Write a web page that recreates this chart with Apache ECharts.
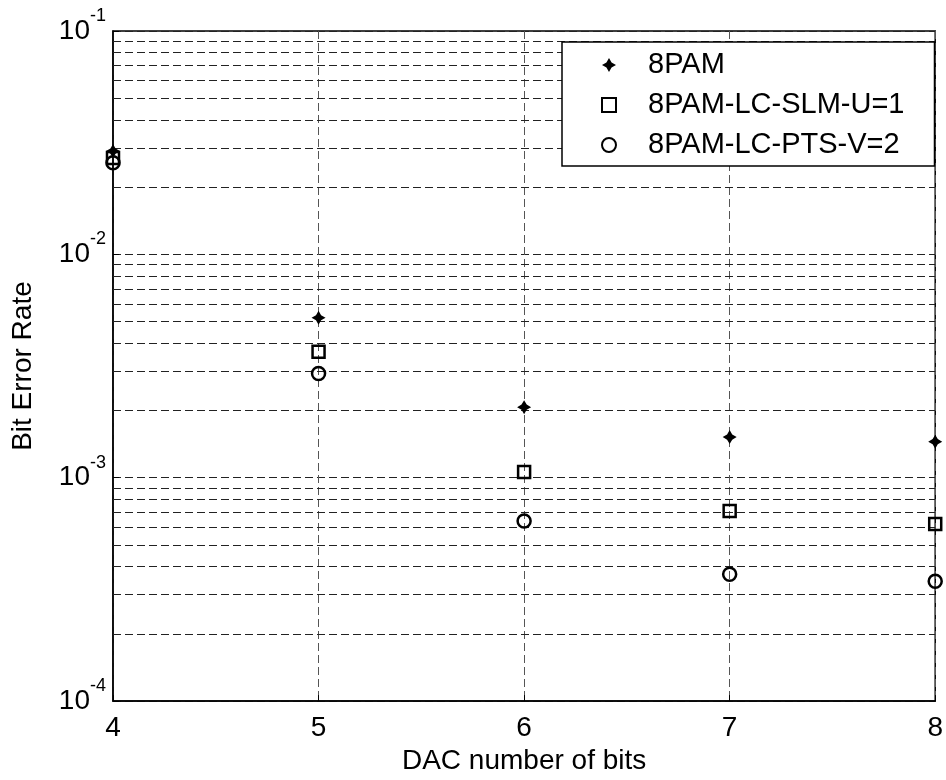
<!DOCTYPE html>
<html>
<head>
<meta charset="utf-8">
<script src="https://cdn.jsdelivr.net/npm/echarts@6/dist/echarts.min.js"></script>
<style>
  html, body { margin: 0; padding: 0; background: #fff; }
  #chart { width: 946px; height: 780px; }
</style>
</head>
<body>
<div id="chart"></div>
<script>
// DAC resolution on the x axis, BER values
const bits = [4, 5, 6, 7, 8];
const ber8pam = [0.029, 0.0052, 0.00207, 0.00152, 0.00145];
const berSlm = [0.027, 0.00366, 0.00106, 0.00071, 0.00062];
const berPts = [0.0257, 0.00293, 0.00064, 0.00037, 0.000344];
const seriesNames = ['8PAM', '8PAM-LC-SLM-U=1', '8PAM-LC-PTS-V=2'];

// minor grid lines of the log axis (2..9 of each decade)
const minorGrid = [
  2e-4, 3e-4, 4e-4, 5e-4, 6e-4, 7e-4, 8e-4, 9e-4,
  2e-3, 3e-3, 4e-3, 5e-3, 6e-3, 7e-3, 8e-3, 9e-3,
  2e-2, 3e-2, 4e-2, 5e-2, 6e-2, 7e-2, 8e-2, 9e-2
];

const FONT = "'Liberation Sans', Arial, sans-serif";
const starPath = 'path://M0,-6 L2.2,-2.2 L6,0 L2.2,2.2 L0,6 L-2.2,2.2 L-6,0 L-2.2,-2.2 Z';
const dash = [8, 4];

const pairs = (ys) => bits.map((b, i) => [b, ys[i]]);

const chart = echarts.init(document.getElementById('chart'));

const option = {
  backgroundColor: '#fff',
  animation: false,
  textStyle: { fontFamily: FONT },
  grid: {
    left: 113, right: 7, top: 31, bottom: 73,
    show: true, borderColor: '#000', borderWidth: 1.5,
    backgroundColor: 'transparent'
  },
  legend: {
    orient: 'vertical',
    left: 562, top: 42,
    z: 10,
    padding: [3, 30, 1, 39],
    itemGap: 0,
    itemWidth: 14, itemHeight: 14,
    backgroundColor: '#fff',
    borderColor: '#000', borderWidth: 1.5,
    data: seriesNames,
    textStyle: {
      fontFamily: FONT, fontSize: 29, color: '#000',
      lineHeight: 40, padding: [0, 0, 0, 27]
    }
  },
  xAxis: {
    type: 'value',
    min: 4, max: 8, interval: 1,
    name: 'DAC number of bits',
    nameLocation: 'middle',
    nameGap: 38,
    nameTextStyle: { fontFamily: FONT, fontSize: 28, color: '#000' },
    axisLine: { show: true, onZero: false, lineStyle: { color: '#000', width: 1.5 } },
    axisTick: { show: true, inside: true, length: 6, lineStyle: { color: '#000' } },
    axisLabel: { fontFamily: FONT, fontSize: 28, color: '#000', margin: 13 },
    splitLine: { show: true, lineStyle: { color: '#555', width: 1, type: dash } }
  },
  yAxis: {
    type: 'log',
    logBase: 10,
    min: 1e-4, max: 1e-1,
    interval: 1,
    name: 'Bit Error Rate',
    nameLocation: 'middle',
    nameGap: 76,
    nameTextStyle: { fontFamily: FONT, fontSize: 28, color: '#000' },
    axisLine: { show: true, lineStyle: { color: '#000', width: 1.5 } },
    axisTick: { show: true, inside: true, length: 6, lineStyle: { color: '#000' } },
    axisLabel: {
      margin: 7,
      formatter: (v) => '{b|10}{s|' + Math.round(Math.log10(v)) + '}',
      rich: {
        b: { fontFamily: FONT, fontSize: 28, color: '#000', lineHeight: 28 },
        s: { fontFamily: FONT, fontSize: 18, color: '#000', lineHeight: 18, padding: [0, 0, 30, 0] }
      }
    },
    splitLine: { show: true, lineStyle: { color: '#222', width: 1, type: dash } }
  },
  series: [
    {
      name: seriesNames[0],
      type: 'scatter',
      data: pairs(ber8pam),
      symbol: starPath,
      symbolSize: 14,
      itemStyle: { color: '#000', opacity: 1 },
      z: 5,
      markLine: {
        silent: true,
        symbol: 'none',
        precision: 6,
        label: { show: false },
        lineStyle: { color: '#222', width: 1, type: dash },
        data: minorGrid.map((v) => ({ yAxis: v }))
      }
    },
    {
      name: seriesNames[1],
      type: 'scatter',
      data: pairs(berSlm),
      symbol: 'rect',
      symbolSize: 12,
      itemStyle: { color: 'rgba(255,255,255,0)', borderColor: '#000', borderWidth: 2.5, opacity: 1 },
      z: 5
    },
    {
      name: seriesNames[2],
      type: 'scatter',
      data: pairs(berPts),
      symbol: 'circle',
      symbolSize: 13,
      itemStyle: { color: 'rgba(255,255,255,0)', borderColor: '#000', borderWidth: 2.5, opacity: 1 },
      z: 5
    }
  ]
};

chart.setOption(option);
</script>
</body>
</html>
